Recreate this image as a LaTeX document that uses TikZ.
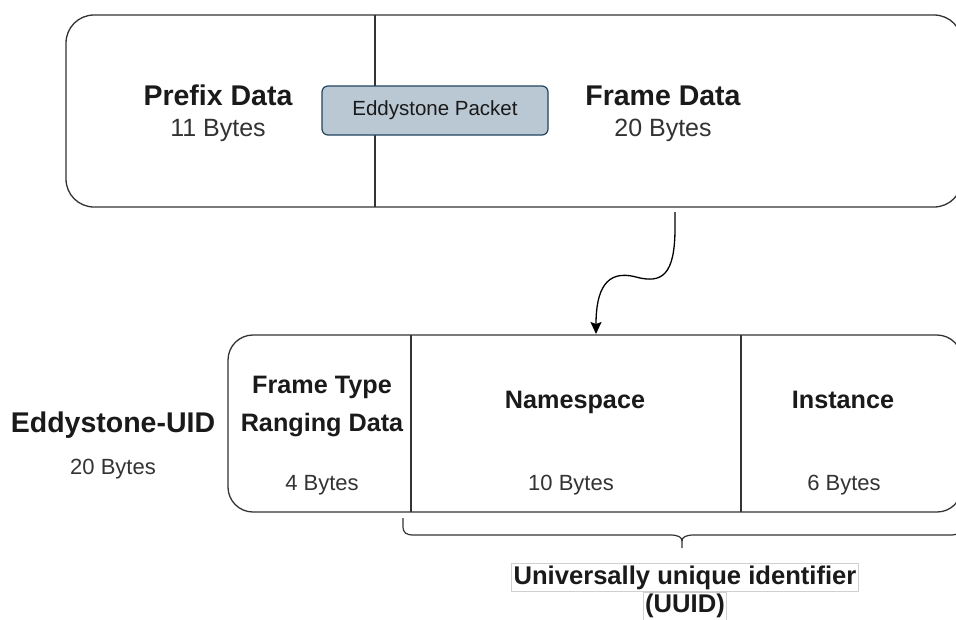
\documentclass[tikz,border=0pt]{standalone}
\usepackage{fontspec}
\setmainfont{Liberation Sans}
\usetikzlibrary{arrows.meta}
\definecolor{txtdark}{HTML}{1A1A1A}
\definecolor{txtgray}{HTML}{333333}
\definecolor{boxline}{HTML}{333333}
\definecolor{pktfill}{HTML}{BAC8D3}
\definecolor{pktline}{HTML}{23445D}
\definecolor{lblline}{HTML}{D0D0D0}
\tikzset{
  bigbold/.style={font=\fontsize{28.5}{30}\selectfont\bfseries, text=txtdark, inner sep=0pt, anchor=base},
  midbold/.style={font=\fontsize{25.2}{27}\selectfont\bfseries, text=txtdark, inner sep=0pt, anchor=base},
  bigreg/.style={font=\fontsize{25}{27}\selectfont, text=txtgray, inner sep=0pt, anchor=base},
  smallreg/.style={font=\fontsize{22}{24}\selectfont, text=txtgray, inner sep=0pt, anchor=base},
  frame/.style={draw=boxline, line width=1.3pt, fill=white, inner sep=0pt},
  divider/.style={draw=boxline, line width=1.2pt},
  uuidlbl/.style={font=\fontsize{25.6}{27}\selectfont\bfseries, text=txtdark, draw=lblline, line width=0.8pt, fill=white, inner xsep=2pt, inner ysep=2pt},
}
\begin{document}
\begin{tikzpicture}[x=1pt, y=-1pt]
\useasboundingbox (0,0) rectangle (956,619);
\clip (0,0) rectangle (956,619);
\fill[white] (0,0) rectangle (956,619);

% top packet box
\node[frame, rounded corners=28pt, minimum width=896pt, minimum height=192pt] (top) at (514,111) {};
\coordinate (tdA) at (375,15);
\coordinate (tdB) at (375,207);
\draw[divider] (tdA) -- (tdB);
\node[bigbold] (prefix) at (218,105) {Prefix Data};
\node[bigreg] (prefixb) at (218,136) {11 Bytes};
\node[bigbold] (frame) at (663,105) {Frame Data};
\node[bigreg] (frameb) at (663,136) {20 Bytes};
\node[draw=pktline, fill=pktfill, line width=1.2pt, rounded corners=6pt, minimum width=226pt, minimum height=49pt, font=\fontsize{20.5}{22}\selectfont, text=txtdark] (pkt) at (435,110.5) {Eddystone Packet};

% bottom UID box
\node[frame, rounded corners=25pt, minimum width=734pt, minimum height=177pt] (uid) at (595,423.5) {};
\coordinate (bdA) at (411,335);
\coordinate (bdB) at (411,512);
\coordinate (bdC) at (741,335);
\coordinate (bdD) at (741,512);
\draw[divider] (bdA) -- (bdB);
\draw[divider] (bdC) -- (bdD);

\node[bigbold] (uidname) at (113,432) {Eddystone-UID};
\node[smallreg] (uidb) at (113,474) {20 Bytes};
\node[midbold] (ft1) at (322,393) {Frame Type};
\node[midbold] (ft2) at (322,431) {Ranging Data};
\node[smallreg] (ftb) at (322,490) {4 Bytes};
\node[midbold] (ns) at (575,408) {Namespace};
\node[smallreg] (nsb) at (571,490) {10 Bytes};
\node[midbold] (inst) at (843,408) {Instance};
\node[smallreg] (instb) at (844,490) {6 Bytes};

% curved arrow
\coordinate (a0) at (675,212);
\coordinate (a1) at (596,334);
\draw[line width=1.3pt, draw=black, -{Stealth[length=12pt,width=11pt,inset=2pt]}]
  (a0) -- (675,228) .. controls (675,275) and (662,284) .. (636,277)
  .. controls (606,269) and (596,290) .. (a1);

% brace
\coordinate (brL) at (403,518);
\coordinate (brM) at (682,548);
\coordinate (brR) at (961,518);
\draw[line width=1.2pt, draw=boxline]
  (brL) -- (403,526) .. controls (403,533) and (406,535) .. (414,535) -- (670,535)
  .. controls (678,535) and (682,537) .. (682,541) -- (brM);
\draw[line width=1.2pt, draw=boxline]
  (682,541) .. controls (682,537) and (686,535) .. (694,535) -- (950,535)
  .. controls (958,535) and (961,533) .. (961,526) -- (brR);

% UUID label
\node[uuidlbl] (uuid1) at (685,577.5) {Universally unique identifier};
\node[uuidlbl, anchor=north] (uuid2) at (685,592) {(UUID)};
\end{tikzpicture}
\end{document}
